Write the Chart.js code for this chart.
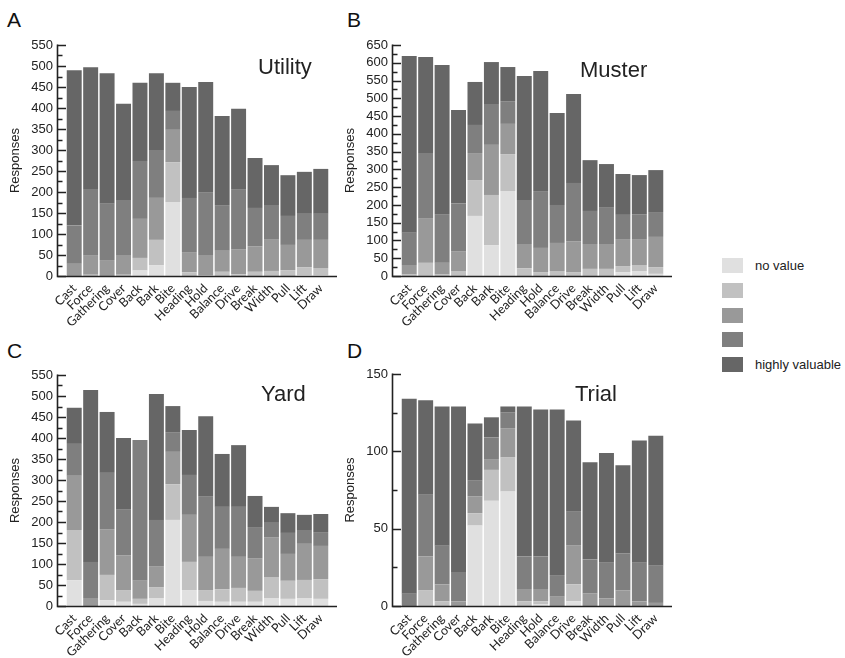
<!DOCTYPE html>
<html>
<head>
<meta charset="utf-8">
<script src="https://cdn.jsdelivr.net/npm/chart.js@4.4.1/dist/chart.umd.min.js"></script>
<style>
html,body{margin:0;padding:0;background:#fff;width:845px;height:658px;overflow:hidden;font-family:"Liberation Sans",Arial,sans-serif;}
.panel{position:absolute;width:345px;height:345px;}
.panel canvas{position:absolute;left:0;top:0;}
.letter{position:absolute;font-size:21px;line-height:1;color:#111;}
.ptitle{position:absolute;font-size:22px;line-height:1;color:#222;}
#legend{position:absolute;left:722px;top:258px;}
.li{position:absolute;left:0;height:15px;width:123px;}
.sw{position:absolute;left:0;top:0;width:21px;height:15px;}
.lt{position:absolute;left:33px;top:0;font-size:13px;line-height:15px;color:#222;white-space:nowrap;}
</style>
</head>
<body>
<div class="letter" style="left:7px;top:9px">A</div>
<div class="letter" style="left:347px;top:9px">B</div>
<div class="letter" style="left:7px;top:340px">C</div>
<div class="letter" style="left:347px;top:340px">D</div>

<div class="panel" style="left:0;top:0"><canvas id="cA" width="345" height="345"></canvas></div>
<div class="panel" style="left:335px;top:0"><canvas id="cB" width="345" height="345"></canvas></div>
<div class="panel" style="left:0;top:330px"><canvas id="cC" width="345" height="345"></canvas></div>
<div class="panel" style="left:335px;top:330px"><canvas id="cD" width="345" height="345"></canvas></div>

<div class="ptitle" style="left:258px;top:56px">Utility</div>
<div class="ptitle" style="left:580px;top:59px">Muster</div>
<div class="ptitle" style="left:261px;top:383px">Yard</div>
<div class="ptitle" style="left:575px;top:383px">Trial</div>

<div id="legend"></div>

<script>
// ---------- DATA ----------
const categories = ["Cast","Force","Gathering","Cover","Back","Bark","Bite","Heading","Hold","Balance","Drive","Break","Width","Pull","Lift","Draw"];
const seriesNames = ["no value","","","","highly valuable"];

// Utility
const utilityS1 = [0,0,0,0,13,26,176,0,0,0,0,0,0,0,2,2];
const utilityS2 = [0,3,0,3,30,60,95,9,2,10,4,10,12,14,19,17];
const utilityS3 = [29,45,38,47,93,100,77,48,48,50,60,61,76,60,65,67];
const utilityS4 = [91,159,134,131,138,114,45,129,148,107,143,91,81,69,62,62];
const utilityS5 = [370,290,311,229,186,183,67,264,264,214,191,119,95,97,100,107];

// Muster
const musterS1 = [0,0,0,0,169,87,239,0,0,0,0,0,0,11,14,6];
const musterS2 = [4,37,4,14,101,141,104,22,11,14,11,20,20,17,17,19];
const musterS3 = [27,124,33,56,76,141,85,68,68,79,87,70,70,76,73,85];
const musterS4 = [91,185,135,134,79,115,64,124,160,107,164,93,104,68,70,70];
const musterS5 = [497,270,422,263,121,118,96,349,338,259,250,143,121,115,110,118];

// Yard
const yardS1 = [61,0,14,10,5,19,205,38,12,10,10,10,19,17,19,17];
const yardS2 = [120,0,60,28,12,26,85,67,26,30,33,26,50,43,43,47];
const yardS3 = [129,19,109,83,43,50,77,112,79,96,74,78,95,64,86,79];
const yardS4 = [76,86,134,108,335,110,47,95,143,100,119,74,34,50,33,33];
const yardS5 = [86,409,145,171,0,300,62,107,192,126,147,74,38,47,36,43];

// Trial
const trialS1 = [0,0,0,0,52,68,74,0,1,0,3,0,0,0,0,0];
const trialS2 = [0,10,3,0,8,20,22,3,2,0,11,0,0,0,0,0];
const trialS3 = [0,22,11,3,11,7,19,8,8,6,25,8,5,10,3,2];
const trialS4 = [8,40,25,19,10,14,10,21,21,14,22,22,23,24,25,24];
const trialS5 = [126,61,90,107,37,13,4,97,95,107,59,63,71,57,79,84];

// y-axis tick settings (max, step)
const utilityTicks = [550, 50];
const musterTicks = [650, 50];
const yardTicks = [550, 50];
const trialTicks = [150, 50];

// ---------- STYLE ----------
const colors = ["#e0e0e0","#c1c1c1","#999999","#7f7f7f","#666666"];

// Prism-style axes: y-axis line offset left of the bars, ticks pointing inward, minor ticks
const prismAxes = {
  id: 'prismAxes',
  afterDraw(chart) {
    const ctx = chart.ctx, a = chart.chartArea, y = chart.scales.y;
    const step = chart.options.scales.y.ticks.stepSize;
    const ax = Math.round(a.left - 9) + 0.5;
    const by = Math.round(a.bottom) + 0.5;
    ctx.save();
    ctx.strokeStyle = '#222';
    ctx.lineWidth = 1.6;
    ctx.beginPath();
    ctx.moveTo(ax, y.getPixelForValue(y.max) - 0.5);
    ctx.lineTo(ax, by);
    ctx.lineTo(a.right + 8, by);
    ctx.stroke();
    ctx.lineWidth = 1.4;
    ctx.beginPath();
    for (let v = 0; v <= y.max + 0.001; v += step / 2) {
      const py = Math.round(y.getPixelForValue(v)) + 0.5;
      const major = Math.abs(v / step - Math.round(v / step)) < 1e-6;
      const len = major ? 8.5 : 5;
      ctx.moveTo(ax, py);
      ctx.lineTo(ax + len, py);
    }
    ctx.stroke();
    ctx.restore();
  }
};

function makeChart(id, series, ticks, topPad) {
  const datasets = series.map((d, i) => ({
    label: seriesNames[i],
    data: d,
    backgroundColor: colors[i],
    borderWidth: 0,
    barPercentage: 0.91,
    categoryPercentage: 1.0,
    stack: 's'
  }));
  return new Chart(document.getElementById(id), {
    type: 'bar',
    data: { labels: categories, datasets },
    plugins: [prismAxes],
    options: {
      responsive: false,
      animation: false,
      devicePixelRatio: 1,
      layout: { padding: { top: topPad, right: 16, left: 0, bottom: 0 } },
      plugins: { legend: { display: false }, tooltip: { enabled: false } },
      scales: {
        x: {
          stacked: true,
          offset: true,
          grid: { display: false, drawTicks: false },
          border: { display: false },
          ticks: {
            autoSkip: false,
            minRotation: 45,
            maxRotation: 45,
            padding: 5,
            color: '#222',
            font: { family: 'Lato', size: 12.5 }
          },
          afterFit(s) { s.height = 69; }
        },
        y: {
          stacked: true,
          min: 0,
          max: ticks[0],
          grid: { display: false, drawTicks: false },
          border: { display: false },
          ticks: {
            stepSize: ticks[1],
            autoSkip: false,
            padding: 13,
            color: '#222',
            font: { family: 'Liberation Sans', size: 13 }
          },
          title: {
            display: true,
            text: 'Responses',
            color: '#222',
            font: { family: 'Liberation Sans', size: 13 },
            padding: { top: 8, bottom: 0 }
          },
          afterFit(s) { s.width = 66; }
        }
      }
    }
  });
}

makeChart('cA', [utilityS1, utilityS2, utilityS3, utilityS4, utilityS5], utilityTicks, 45);
makeChart('cB', [musterS1, musterS2, musterS3, musterS4, musterS5], musterTicks, 45);
makeChart('cC', [yardS1, yardS2, yardS3, yardS4, yardS5], yardTicks, 45);
makeChart('cD', [trialS1, trialS2, trialS3, trialS4, trialS5], trialTicks, 44);

// legend
const lg = document.getElementById('legend');
seriesNames.forEach((n, i) => {
  const it = document.createElement('div');
  it.className = 'li';
  it.style.top = (i * 24.8) + 'px';
  const sw = document.createElement('div');
  sw.className = 'sw';
  sw.style.background = colors[i];
  const t = document.createElement('div');
  t.className = 'lt';
  t.textContent = n;
  it.appendChild(sw); it.appendChild(t);
  lg.appendChild(it);
});
</script>
</body>
</html>
